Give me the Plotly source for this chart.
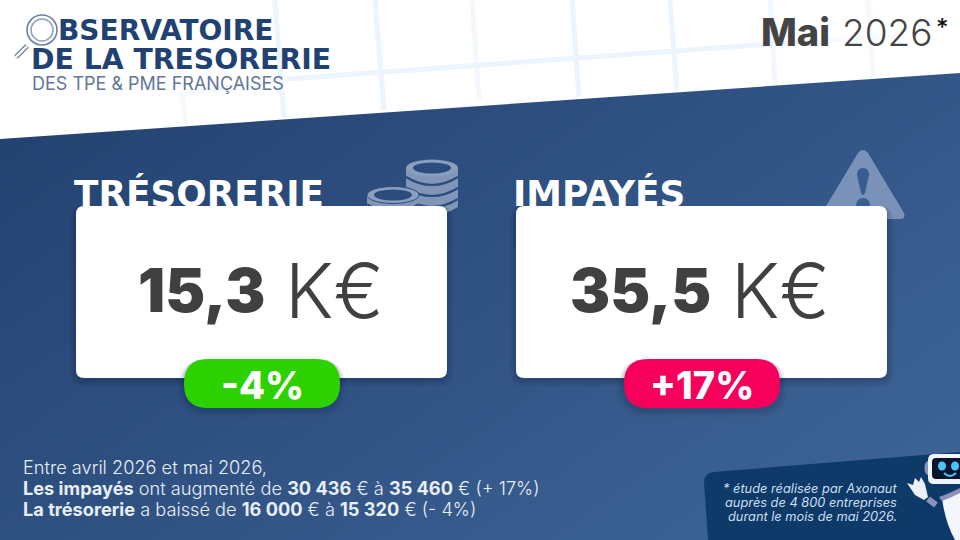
import plotly.graph_objects as go

FONT = "Inter"
WIDE = "DejaVu Sans"
NAVY = "#1f4272"
TITLES = ["TRÉSORERIE", "IMPAYÉS"]
AMOUNTS = ["15,3", "35,5"]
UNIT = "K€"
DELTAS = ["-4%", "+17%"]
DELTA_COLORS = ["#2ed100", "#f5005a"]
HEADER = ["BSERVATOIRE", "DE LA TRESORERIE", "DES TPE & PME FRANÇAISES"]
MONTH = "Mai"
YEAR = "2026"
INTRO = "Entre avril 2026 et mai 2026,"
LINE_IMPAYES = "<b>Les impayés</b> ont augmenté de <b>30 436</b> € à <b>35 460</b> € (+ 17%)"
LINE_TRESO = "<b>La trésorerie</b> a baissé de <b>16 000</b> € à <b>15 320</b> € (- 4%)"
NOTE = ["* étude réalisée par Axonaut", "auprès de 4 800 entreprises", "durant le mois de mai 2026."]


def rrect(x0, y0, x1, y1, r):
    return (f"M{x0+r},{y0} L{x1-r},{y0} Q{x1},{y0} {x1},{y0+r} L{x1},{y1-r} Q{x1},{y1} {x1-r},{y1} "
            f"L{x0+r},{y1} Q{x0},{y1} {x0},{y1-r} L{x0},{y0+r} Q{x0},{y0} {x0+r},{y0} Z")


shapes = []


def path(p, fill, line=None, w=0):
    shapes.append(dict(type="path", path=p, fillcolor=fill, layer="above",
                       line=dict(width=w, color=line or "rgba(0,0,0,0)")))


def seg(x0, y0, x1, y1, c, w):
    shapes.append(dict(type="line", x0=x0, y0=y0, x1=x1, y1=y1, layer="above", line=dict(color=c, width=w)))


def circ(cx, cy, rx, ry, fill, line=None, w=0):
    shapes.append(dict(type="circle", x0=cx-rx, x1=cx+rx, y0=cy-ry, y1=cy+ry, fillcolor=fill, layer="above",
                       line=dict(width=w, color=line or "rgba(0,0,0,0)")))


# white band with its pale grid
path("M0,0 L960,0 L960,73 L0,139 Z", "#ffffff")
GRID = "#ecf4fd"
for x0, y0, x1, y1, c in [
    (275, 0, 284, 118, GRID), (375, 0, 384, 110, GRID), (472, 0, 479, 100, "#f3f8fd"),
    (572, 0, 579, 97, GRID), (670, 0, 677, 91, GRID), (770, 0, 775, 85, "#f1f7fd"),
    (868, 0, 873, 77, "#f5f9fe"), (182, 92, 186, 126, "#f5f9fe"),
    (183, 94, 287, 79, "#f5f9fe"), (287, 79, 800, 42, GRID), (800, 42, 900, 36, "#f7fafe"),
]:
    seg(x0, y0, x1, y1, c, 5)

# coins
COIN = "#8095b7"
BG1 = "#2b4c7c"
path("M406,168 L458,168 L458,207 Q432,223 406,207 Z", COIN)
for t in (177, 188, 199):
    path(f"M406,{t} Q432,{t+16} 458,{t}", "rgba(0,0,0,0)", BG1, 2.2)
circ(432, 168, 26, 8.5, "#8a9ebd")
circ(432, 168, 19, 5.5, BG1)
path("M367,195 L419,195 L419,225 L367,225 Z", COIN)
circ(393, 195, 26, 8.5, "#8a9ebd", BG1, 1)
circ(393, 195, 19, 5.5, BG1)
path("M367,204 Q393,220 419,204", "rgba(0,0,0,0)", BG1, 2)

# warning triangle
path("M858,153 Q863,147 868,153 L904,213 Q906,219 900,219 L826,219 Q820,219 822,213 Z", "#7a92b8")
path("M857,175 Q857,168 863,168 Q869,168 869,175 L865,193 Q863,197 861,193 Z", "#3a5d90")
circ(863, 205, 7, 7, "#3a5d90")

# cards and badges
CARDS = [(76, 447), (516, 887)]
BADGES = [(184, 340), (624, 780)]
for (x0, x1), (bx0, bx1), col in zip(CARDS, BADGES, DELTA_COLORS):
    for g, a in ((7, .05), (5, .06), (3, .07), (1, .08)):
        path(rrect(x0-g, 206, x1+g, 378+g+2, 9+g), f"rgba(10,25,50,{a})")
    path(rrect(x0, 206, x1, 378, 8), "#ffffff")
    for g, a in ((7, .05), (4, .07), (2, .08)):
        path(rrect(bx0-g, 359, bx1+g, 408+g+2, 24+g), f"rgba(10,25,50,{a})")
    path(rrect(bx0, 359, bx1, 408, 24), col)

# logo glass
LOGO = "#6a81a2"
circ(42, 30, 15, 15, "rgba(255,255,255,0.8)", LOGO, 1.6)
circ(42, 30, 11, 11, "rgba(0,0,0,0)", "#8fa2bb", 1.5)
seg(27, 46, 16, 57, LOGO, 5)
seg(27, 46, 16, 57, "#ffffff", 2.4)

# footnote panel
path("M704,482 Q704,473 714,472 L960,452 L960,540 L708,540 Z", "#0d3a69")

# robot
ROB = "#8d92ba"
circ(928, 468, 3.5, 7, ROB)
path(rrect(928, 454, 975, 484, 6), "#f3f5fb")
path(rrect(932, 458, 975, 479, 4), "#0b1530")
circ(942, 466, 4, 4.5, "#49c6f5")
circ(955, 466, 4, 4.5, "#49c6f5")
path("M944,473 Q950,479 956,473", "rgba(0,0,0,0)", "#49c6f5", 2)
seg(928, 499, 936, 505, ROB, 6)
path("M907,483 L913,485 L915,478 L919,482 L921,477 L925,484 L928,497 L924,500 L915,495 Z", "#eef0f7")
path("M942,498 L960,490 L960,540 L955,540 Q945,522 942,498 Z", "#f4f6fb")
path("M939,497 Q948,494 960,488 L960,493 Q950,498 942,501 Z", ROB)

ann = []


def text(x, y, s, size, color, anchor="left", weight=400, style="normal", family=FONT):
    ann.append(dict(x=x, y=y, text=s, showarrow=False, xanchor=anchor, yanchor="middle", xref="x", yref="y",
                    align=anchor, font=dict(family=family, size=size, color=color, weight=weight, style=style)))


text(56, 30, HEADER[0], 28, NAVY, weight=700, family=WIDE)
text(29, 59.5, HEADER[1], 28.3, NAVY, weight=700, family=WIDE)
text(30, 83, HEADER[2], 18, "#62769a", weight=400)
text(832, 32, MONTH, 38, "#444444", "right", 800)
text(840, 32, YEAR, 37, "#444444", "left", 300)
text(934, 27, "*", 24, "#111111", "left", 500)

for i, x in enumerate((267, 713)):
    text(x, 290, AMOUNTS[i], 60, "#404040", "right", 900)
    text(x + 16, 290, UNIT, 75, "#404040", "left", 300)
    text((BADGES[i][0] + BADGES[i][1]) / 2, 385, DELTAS[i], 38, "#ffffff", "center", 800)

text(21, 467, INTRO, 18.2, "#e8eef6", weight=300)
text(21, 488, LINE_IMPAYES, 18.2, "#e8eef6", weight=300)
text(21, 509, LINE_TRESO, 18.2, "#e8eef6", weight=300)
for i, s in enumerate(NOTE):
    text(899, 488 + 14 * i, s, 12.8, "#cfdff0", "right", 400, "italic")

fig = go.Figure()
# page gradient: corner tones of the background
fig.add_trace(go.Heatmap(x=[0, 960], y=[0, 540], z=[[0.0, 0.55], [0.45, 1.0]], zsmooth="best", showscale=False,
                         zmin=0, zmax=1, colorscale=[[0, "#203e6c"], [1, "#3f6699"]], hoverinfo="skip"))
# section titles sit under the cards, which cut off their lower edge
fig.add_trace(go.Scatter(x=[74, 513], y=[197, 197], mode="text", text=TITLES, textposition="middle right",
                         textfont=dict(family=WIDE, size=35.8, color="#ffffff", weight=700),
                         hoverinfo="skip", showlegend=False))

fig.update_layout(width=960, height=540, margin=dict(l=0, r=0, t=0, b=0), paper_bgcolor="#ffffff",
                  plot_bgcolor="#ffffff", shapes=shapes, annotations=ann, showlegend=False,
                  xaxis=dict(range=[0, 960], visible=False, fixedrange=True),
                  yaxis=dict(range=[540, 0], visible=False, fixedrange=True))
fig.write_html("out.html", config=dict(displayModeBar=False),
               post_script="document.body.style.margin='0';document.body.style.overflow='hidden';")
